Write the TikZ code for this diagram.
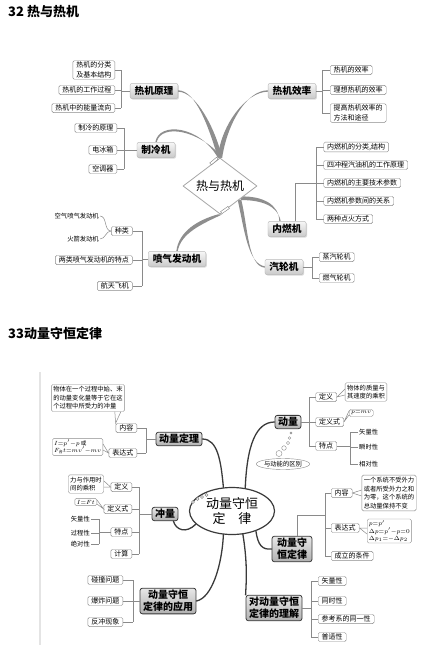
\documentclass[tikz,border=0pt]{standalone}
\usepackage{amsmath}
\usepackage{fontspec}
\setmainfont{Noto Sans CJK SC}
\usetikzlibrary{shapes.geometric, shadows}
\definecolor{BranchGray}{HTML}{8E8E8E}
\definecolor{LeafLine}{HTML}{8A8A8A}
\definecolor{InkDark}{HTML}{3A3A3A}
\definecolor{ScanEdge}{HTML}{E4E4E4}
\pgfdeclarelayer{bg}
\pgfsetlayers{bg,main}

\tikzset{
  title/.style={anchor=west, inner sep=0pt, font=\bfseries\fontsize{13}{14}\selectfont},
  leaf/.style={draw=LeafLine, fill=white, rounded corners=1.5pt, inner xsep=3.5pt, inner ysep=1.3pt,
    align=left, font=\fontsize{7}{9.5}\selectfont},
  note/.style={leaf, inner sep=2pt, font=\fontsize{6.3}{8.6}\selectfont},
  mathbox/.style={leaf, inner sep=1.6pt, font=\fontsize{5.6}{7.2}\selectfont},
  tag/.style={inner sep=1pt, font=\fontsize{6.3}{7}\selectfont},
  topicA/.style={draw=gray!55, rounded corners=2pt, top color=gray!6, bottom color=gray!42,
    inner xsep=4.5pt, inner ysep=3pt, font=\bfseries\fontsize{9.7}{11}\selectfont,
    drop shadow={opacity=0.3, shadow xshift=1pt, shadow yshift=-1pt}},
  topicB/.style={draw=InkDark, line width=0.8pt, rounded corners=2.5pt, top color=gray!18,
    bottom color=gray!62, inner xsep=3pt, inner ysep=2pt, align=center,
    font=\bfseries\fontsize{10}{12}\selectfont},
  link/.style={LeafLine, line width=0.5pt},
  taper/.style={fill=BranchGray},
  branchB/.style={InkDark, line width=1.3pt, line cap=round},
  bubble/.style={draw=LeafLine, fill=white, line width=0.4pt}
}

\begin{document}
\begin{tikzpicture}[x=1pt, y=-1pt]
  \useasboundingbox (0,0) rectangle (427,649);

  % Titles
  \node[title] (t32) at (8,12) {32 热与热机};
  \node[title] (t33) at (8,333) {33动量守恒定律};

  % ---------------- 热与热机 ----------------
  \node[draw=gray!70, line width=0.8pt, fill=white, diamond, aspect=1.3, minimum width=74pt,
    minimum height=56pt, inner sep=0pt, font=\fontsize{12}{12}\selectfont] (hub) at (220,186) {热与热机};
  \node[draw=gray, fill=white, inner sep=0pt, minimum width=9pt, minimum height=2.5pt, rotate=40] (pen1) at (214,161) {};
  \node[draw=gray, fill=white, inner sep=0pt, minimum width=9pt, minimum height=2.5pt, rotate=35] (pen2) at (225,210) {};

  \node[topicA] (yuanli) at (154,91) {热机原理};
  \node[topicA] (xiaolv) at (292,91) {热机效率};
  \node[topicA] (zhileng) at (156,150) {制冷机};
  \node[topicA] (penqi) at (177,259) {喷气发动机};
  \node[topicA] (neiran) at (287,229) {内燃机};
  \node[topicA] (qilun) at (284,267) {汽轮机};

  % Branches (thick at the hub, thin at the topic)
  \begin{pgfonlayer}{bg}
    \fill[taper] ([yshift=0.7pt]yuanli.east) .. controls (196,90.3) and (209,128) .. ([xshift=-2.2pt]hub.north)
      -- ([xshift=2.2pt]hub.north) .. controls (215,128) and (196,91.7) .. ([yshift=-0.7pt]yuanli.east) -- cycle;
    \fill[taper] ([yshift=0.7pt]xiaolv.west) .. controls (246,90.3) and (227,125) .. ([xshift=2.2pt]hub.north)
      -- ([xshift=-2.2pt]hub.north) .. controls (221,125) and (246,91.7) .. ([yshift=-0.7pt]xiaolv.west) -- cycle;
    \fill[taper] ([xshift=-0.7pt]zhileng.north) .. controls (159,121) and (200,126) .. ([xshift=-2.2pt]hub.north)
      -- ([xshift=2.2pt]hub.north) .. controls (200,130) and (161,123) .. ([xshift=0.7pt]zhileng.north) -- cycle;
    \fill[taper] ([xshift=-0.7pt]penqi.north) .. controls (179,231) and (198,220) .. ([xshift=-2.2pt]hub.south)
      -- ([xshift=2.2pt]hub.south) .. controls (202,224) and (181,233) .. ([xshift=0.7pt]penqi.north) -- cycle;
    \fill[taper] ([xshift=-7.7pt]neiran.north) .. controls (279,204) and (262,196) .. ([yshift=1.8pt]hub.-30)
      -- ([yshift=-1.8pt]hub.-30) .. controls (262,200) and (278,206) .. ([xshift=-6.3pt]neiran.north) -- cycle;
    \fill[taper] ([yshift=0.7pt]qilun.west) .. controls (248,264) and (244,228) .. ([xshift=-1.8pt]hub.-35)
      -- ([xshift=1.8pt]hub.-35) .. controls (248,228) and (248,266) .. ([yshift=-0.7pt]qilun.west) -- cycle;
  \end{pgfonlayer}

  % 热机原理
  \coordinate (ylSpine) at (121,91);
  \foreach \n/\y/\t in {yl1/70/{热机的分类\\及基本结构}, yl2/90/热机的工作过程, yl3/108/热机中的能量流向} {
    \node[leaf, anchor=east] (\n) at (115,\y) {\t};
    \draw[link] (\n.east) -- (\n.east -| ylSpine);
  }
  \draw[link] (yl1.east -| ylSpine) -- (yl3.east -| ylSpine);
  \draw[link] (yuanli.west) -- (yuanli.west -| ylSpine);

  % 制冷机
  \coordinate (zlSpine) at (124,150);
  \foreach \n/\y/\t in {zl1/128/制冷的原理, zl2/150/电冰箱, zl3/169/空调器} {
    \node[leaf, anchor=east] (\n) at (117,\y) {\t};
    \draw[link] (\n.east) -- (\n.east -| zlSpine);
  }
  \draw[link] (zl1.east -| zlSpine) -- (zl3.east -| zlSpine);
  \draw[link] (zhileng.west) -- (zhileng.west -| zlSpine);

  % 喷气发动机
  \coordinate (pqSpine) at (142,259);
  \foreach \n/\y/\t in {pq1/231/种类, pq2/260/两类喷气发动机的特点, pq3/286/航天飞机} {
    \node[leaf, anchor=east] (\n) at (132.5,\y) {\t};
    \draw[link] (\n.east) -- (\n.east -| pqSpine);
  }
  \draw[link] (pq1.east -| pqSpine) -- (pq3.east -| pqSpine);
  \draw[link] (penqi.west) -- (penqi.west -| pqSpine);
  \node[tag, anchor=east] (jt1) at (100,216) {空气喷气发动机};
  \node[tag, anchor=east] (jt2) at (100,239) {火箭发动机};
  \draw[link] (jt1.east) to[out=0, in=180] (pq1.west);
  \draw[link] (jt2.east) to[out=0, in=180] (pq1.west);

  % 热机效率
  \coordinate (xlSpine) at (322,91);
  \foreach \n/\y/\t in {xl1/70/热机的效率, xl2/90/理想热机的效率, xl3/113/{提高热机效率的\\方法和途径}} {
    \node[leaf, anchor=west] (\n) at (330,\y) {\t};
    \draw[link] (\n.west) -- (\n.west -| xlSpine);
  }
  \draw[link] (xl1.west -| xlSpine) -- (xl3.west -| xlSpine);
  \draw[link] (xiaolv.east) -- (xiaolv.east -| xlSpine);

  % 内燃机
  \coordinate (nrSpine) at (316,183);
  \foreach \n/\y/\t in {nr1/147/{内燃机的分类,结构}, nr2/165/四冲程汽油机的工作原理, nr3/183/内燃机的主要技术参数,
      nr4/201/内燃机参数间的关系, nr5/219/两种点火方式} {
    \node[leaf, anchor=west] (\n) at (323.5,\y) {\t};
    \draw[link] (\n.west) -- (\n.west -| nrSpine);
  }
  \draw[link] (nr1.west -| nrSpine) -- (nr5.west -| nrSpine);
  \draw[link] ([xshift=8pt]neiran.north) |- (nrSpine);

  % 汽轮机
  \coordinate (qlSpine) at (312,267);
  \foreach \n/\y/\t in {ql1/257/蒸汽轮机, ql2/278/燃气轮机} {
    \node[leaf, anchor=west] (\n) at (319,\y) {\t};
    \draw[link] (\n.west) -- (\n.west -| qlSpine);
  }
  \draw[link] (ql1.west -| qlSpine) -- (ql2.west -| qlSpine);
  \draw[link] (qilun.east) -- (qilun.east -| qlSpine);

  % ---------------- 动量守恒定律 ----------------
  \draw[ScanEdge, line width=1.2pt] (40,372) -- (40,645);

  \node[draw=InkDark, line width=1.2pt, fill=white, ellipse, minimum width=85pt, minimum height=47pt,
    inner sep=0pt, align=center, font=\fontsize{13}{15}\selectfont] (hub2) at (232,511) {动量守恒\\定\quad 律};
  \foreach \i/\x/\y in {1/193/502, 2/197.5/499, 3/202/497, 4/206.5/495}
    \draw[bubble] (\x,\y) circle (1.5);

  \node[topicB] (dldl) at (179,439) {动量定理};
  \node[topicB] (dl) at (288,422) {动量};
  \node[topicB] (cl) at (165,514) {冲量};
  \node[topicB, inner xsep=5pt] (shg) at (292,549) {动量守\\恒定律};
  \node[topicB] (lijie) at (274,608) {对动量守恒\\定律的理解};
  \node[topicB] (yy) at (168,601) {动量守恒\\定律的应用};

  % Branches
  \draw[branchB] (hub2.110) .. controls (221,462) and (218,439) .. (dldl.east);
  \draw[branchB] (hub2.60) .. controls (247,445) and (256,422) .. (dl.west);
  \draw[branchB] (hub2.200) .. controls (186,534) and (176,530) .. ([xshift=-5pt]cl.south east);
  \draw[branchB] (hub2.-40) .. controls (258,545) and (262,550) .. (shg.west);
  \draw[branchB] (hub2.-65) .. controls (248,565) and (246,585) .. (lijie.north west);
  \draw[branchB] (hub2.-110) .. controls (222,565) and (212,598) .. (yy.east);

  % 动量 and its bubbles
  \foreach \x/\y/\r in {291/433/1, 289.5/438/1.3, 288/443/1.7, 284/448/2.3, 279/453.5/3}
    \draw[bubble] (\x,\y) circle (\r);
  \node[draw=LeafLine, fill=white, ellipse, minimum width=48pt, minimum height=11pt, inner sep=0pt,
    font=\fontsize{6.3}{7}\selectfont] (qb) at (283,464) {与动能的区别};

  % 动量定理
  \coordinate (ddSpine) at (146,439);
  \foreach \n/\y/\t in {dldlnr/428/内容, dldlbd/453/表达式} {
    \node[leaf, anchor=east] (\n) at (137,\y) {\t};
    \draw[link] (\n.east) -- (\n.east -| ddSpine);
  }
  \draw[link] (dldlnr.east -| ddSpine) -- (dldlbd.east -| ddSpine);
  \draw[link] (dldl.west) -- (dldl.west -| ddSpine);
  \node[note] (ddnote) at (88,398) {物体在一个过程中始、末\\的动量变化量等于它在这\\个过程中所受力的冲量};
  \node[mathbox, anchor=east] (ddmath) at (103,447) {$I{=}p'{-}p$ 或\\$F_{\text{合}}t{=}mv'{-}mv$};
  \draw[link] ([xshift=-10pt]ddnote.south east) -- (dldlnr.north west) -- ([xshift=-4pt]ddnote.south east);
  \draw[link] ([yshift=3pt]ddmath.east) -- (dldlbd.west) -- ([yshift=-3pt]ddmath.east);

  % 动量
  \coordinate (dlSpine) at (309,422);
  \foreach \n/\y/\t in {dldy/397/定义, dldys/422/定义式, dltd/446/特点} {
    \node[leaf, anchor=west] (\n) at (315.5,\y) {\t};
    \draw[link] (\n.west) -- (\n.west -| dlSpine);
  }
  \draw[link] (dldy.west -| dlSpine) -- (dltd.west -| dlSpine);
  \draw[link] (dl.east) -- (dl.east -| dlSpine);
  \node[note] (dlnote) at (366,392) {物体的质量与\\其速度的乘积};
  \node[mathbox, anchor=west, minimum width=24pt] (dlmath) at (349,413) {$p{=}mv$};
  \draw[link] ([yshift=3pt]dlnote.west) -- (dldy.east) -- ([yshift=-3pt]dlnote.west);
  \draw[link] ([yshift=2pt]dlmath.west) -- (dldys.east) -- ([yshift=-2pt]dlmath.west);
  \coordinate (tdSpine) at (350,446);
  \foreach \n/\y/\t in {dlt1/432/矢量性, dlt2/447/瞬时性, dlt3/464/相对性} {
    \node[tag, anchor=west] (\n) at (358,\y) {\t};
    \draw[link] (\n.west) -- (\n.west -| tdSpine);
  }
  \draw[link] (dlt1.west -| tdSpine) -- (dlt3.west -| tdSpine);
  \draw[link] (dltd.east) -- (dltd.east -| tdSpine);

  % 冲量
  \coordinate (clSpine) at (139,514);
  \foreach \n/\y/\t in {cldy/487/定义, cldys/509/定义式, cltd/532/特点, cljs/554/计算} {
    \node[leaf, anchor=east] (\n) at (132,\y) {\t};
    \draw[link] (\n.east) -- (\n.east -| clSpine);
  }
  \draw[link] (cldy.east -| clSpine) -- (cljs.east -| clSpine);
  \draw[link] (cl.west) -- (cl.west -| clSpine);
  \node[note] (clnote) at (86,484) {力与作用时\\间的乘积};
  \node[mathbox, anchor=east, minimum width=22pt] (clmath) at (97,502) {$I{=}Ft$};
  \draw[link] ([yshift=3pt]clnote.east) -- (cldy.west) -- ([yshift=-3pt]clnote.east);
  \draw[link] ([yshift=2pt]clmath.east) -- (cldys.west) -- ([yshift=-2pt]clmath.east);
  \coordinate (ctSpine) at (99,532);
  \foreach \n/\y/\t in {clt1/519/矢量性, clt2/533/过程性, clt3/544/绝对性} {
    \node[tag, anchor=east] (\n) at (91,\y) {\t};
    \draw[link] (\n.east) -- (\n.east -| ctSpine);
  }
  \draw[link] (clt1.east -| ctSpine) -- (clt3.east -| ctSpine);
  \draw[link] (cltd.west) -- (cltd.west -| ctSpine);

  % 动量守恒定律
  \coordinate (sgSpine) at (325,515);
  \foreach \n/\y/\t in {shgnr/493/内容, shgbd/528/表达式, shgtj/556/成立的条件} {
    \node[leaf, anchor=west] (\n) at (331,\y) {\t};
    \draw[link] (\n.west) -- (\n.west -| sgSpine);
  }
  \draw[link] (shgnr.west -| sgSpine) -- (shgtj.west -| sgSpine);
  \draw[link] ([xshift=5pt]shg.north) |- (sgSpine);
  \node[note] (sgnote) at (389,493) {一个系统不受外力\\或者所受外力之和\\为零，这个系统的\\总动量保持不变};
  \node[mathbox, anchor=west] (sgmath) at (367,531) {$p{=}p'$\\$\Delta p{=}p'{-}p{=}0$\\$\Delta p_1{=}{-}\Delta p_2$};
  \draw[link] ([yshift=3pt]sgnote.west) -- (shgnr.east) -- ([yshift=-3pt]sgnote.west);
  \draw[link] ([yshift=3pt]sgmath.west) -- (shgbd.east) -- ([yshift=-3pt]sgmath.west);

  % 对动量守恒定律的理解
  \coordinate (ljSpine) at (311,608);
  \foreach \n/\y/\t in {lj1/581/矢量性, lj2/601/同时性, lj3/619/参考系的同一性, lj4/637/普适性} {
    \node[leaf, anchor=west] (\n) at (318,\y) {\t};
    \draw[link] (\n.west) -- (\n.west -| ljSpine);
  }
  \draw[link] (lj1.west -| ljSpine) -- (lj4.west -| ljSpine);
  \draw[link] (lijie.east) -- (lijie.east -| ljSpine);

  % 动量守恒定律的应用
  \coordinate (yySpine) at (133,601);
  \foreach \n/\y/\t in {yy1/580/碰撞问题, yy2/601/爆炸问题, yy3/622/反冲现象} {
    \node[leaf, anchor=east] (\n) at (123,\y) {\t};
    \draw[link] (\n.east) -- (\n.east -| yySpine);
  }
  \draw[link] (yy1.east -| yySpine) -- (yy3.east -| yySpine);
  \draw[link] (yy.west) -- (yy.west -| yySpine);

\end{tikzpicture}
\end{document}
